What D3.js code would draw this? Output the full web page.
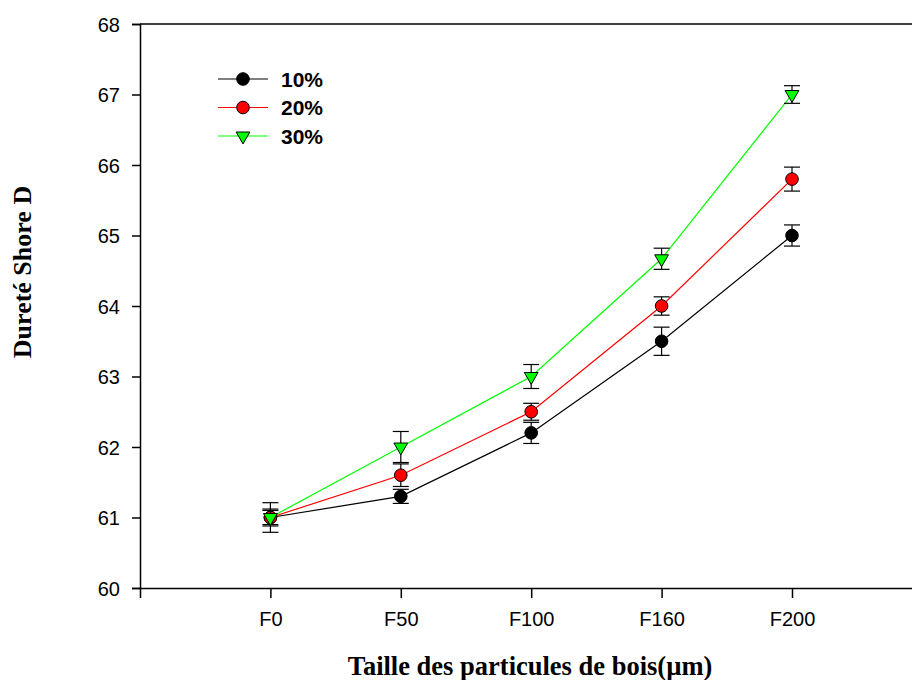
<!DOCTYPE html>
<html><head><meta charset="utf-8">
<script src="https://cdn.jsdelivr.net/npm/d3@7"></script>
<style>body{margin:0;background:#fff}svg{display:block}</style>
</head><body>
<svg id="c" width="912" height="680"></svg>
<script>
const categories = ["F0","F50","F100","F160","F200"];
const yTicks = [60,61,62,63,64,65,66,67,68];
const seriesNames = ["10%","20%","30%"];
const values10 = [61.0, 61.3, 62.2, 63.5, 65.0];
const errors10 = [0.21, 0.1, 0.15, 0.2, 0.15];
const values20 = [61.0, 61.6, 62.5, 64.0, 65.8];
const errors20 = [0.12, 0.16, 0.12, 0.13, 0.17];
const values30 = [61.0, 62.0, 63.0, 64.67, 67.0];
const errors30 = [0.1, 0.22, 0.17, 0.15, 0.125];
const colors = ["#000000","#ff0000","#00ff00"];
const shapes = ["circle","circle","triangle"];

const series = [
  {name: seriesNames[0], v: values10, e: errors10, color: colors[0], shape: shapes[0]},
  {name: seriesNames[1], v: values20, e: errors20, color: colors[1], shape: shapes[1]},
  {name: seriesNames[2], v: values30, e: errors30, color: colors[2], shape: shapes[2]}
];

const svg = d3.select("#c");
const mLeft = 140, mTop = 24, mBottom = 588, step = 130.4;
const x = d3.scaleLinear().domain([-1, 5]).range([mLeft, mLeft + 6*step]);
const y = d3.scaleLinear().domain([60, 68]).range([mBottom, mTop]);

const sans = "'Liberation Sans', Arial, sans-serif";
const serif = "'Liberation Serif', 'Times New Roman', serif";

// frame top
svg.append("line").attr("x1", mLeft).attr("x2", 912).attr("y1", mTop).attr("y2", mTop)
  .attr("stroke", "#000").attr("stroke-width", 1.5);

const yAxis = svg.append("g").attr("transform", `translate(${mLeft},0)`)
  .call(d3.axisLeft(y).tickValues(yTicks).tickSize(8).tickPadding(12).tickFormat(d3.format("d")));
const xAxis = svg.append("g").attr("transform", `translate(0,${mBottom})`)
  .call(d3.axisBottom(x).tickValues(d3.range(categories.length)).tickSize(10).tickPadding(14)
    .tickFormat(i => categories[i]));
[yAxis, xAxis].forEach(a => {
  a.select(".domain").attr("stroke-width", 1.5);
  a.selectAll(".tick line").attr("stroke-width", 1.5);
  a.selectAll("text").attr("font-family", sans).attr("font-size", 20).attr("fill", "#000");
});
yAxis.selectAll("text").attr("dy", "0.36em");

const tri = d3.symbol().type(d3.symbolTriangle).size(82);

function marker(g, s, cx, cy) {
  if (s.shape === "circle") {
    g.append("circle").attr("cx", cx).attr("cy", cy).attr("r", 6.3)
      .attr("fill", s.color).attr("stroke", "#000").attr("stroke-width", 1);
  } else {
    g.append("path").attr("d", tri).attr("transform", `translate(${cx},${cy}) rotate(180)`)
      .attr("fill", s.color).attr("stroke", "#000").attr("stroke-width", 1);
  }
}

const line = d3.line().x((d, i) => x(i)).y(d => y(d));
series.forEach(s => {
  const g = svg.append("g");
  g.append("path").attr("d", line(s.v)).attr("fill", "none").attr("stroke", s.color).attr("stroke-width", 1.2);
  s.v.forEach((v, i) => {
    const cx = x(i), y1 = y(v + s.e[i]), y2 = y(v - s.e[i]);
    g.append("line").attr("x1", cx).attr("x2", cx).attr("y1", y1).attr("y2", y2).attr("stroke", "#000").attr("stroke-width", 1.2);
    [y1, y2].forEach(yy => g.append("line").attr("x1", cx - 8).attr("x2", cx + 8).attr("y1", yy).attr("y2", yy)
      .attr("stroke", "#000").attr("stroke-width", 1.2));
    marker(g, s, cx, y(v));
  });
});

// legend
const legY = [79, 107.5, 136];
series.forEach((s, i) => {
  const g = svg.append("g");
  g.append("line").attr("x1", 218).attr("x2", 268).attr("y1", legY[i]).attr("y2", legY[i])
    .attr("stroke", s.color).attr("stroke-width", 1.2);
  marker(g, s, 243, legY[i]);
  g.append("text").attr("x", 281).attr("y", legY[i]).attr("dy", "0.36em")
    .attr("font-family", sans).attr("font-weight", "bold").attr("font-size", 21).text(s.name);
});

svg.append("text").attr("x", 530).attr("y", 675).attr("text-anchor", "middle")
  .attr("font-family", serif).attr("font-weight", "bold").attr("font-size", 26.5)
  .text("Taille des particules de bois(µm)");
svg.append("text").attr("transform", "translate(31,272) rotate(-90)").attr("text-anchor", "middle")
  .attr("font-family", serif).attr("font-weight", "bold").attr("font-size", 26)
  .text("Dureté Shore D");
</script>
</body></html>
